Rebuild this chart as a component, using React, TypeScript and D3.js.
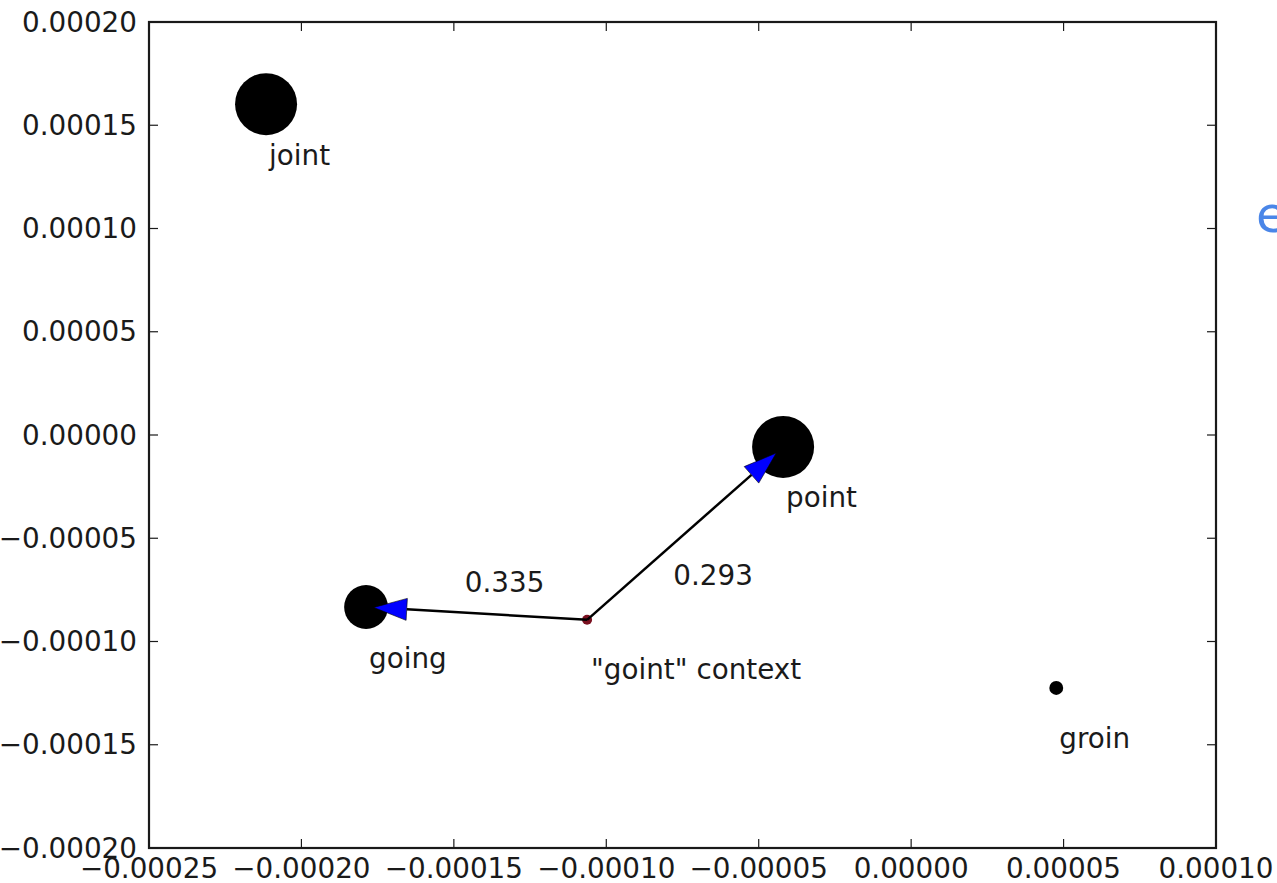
import React from 'react';
import * as d3 from 'd3';

// word embeddings (2d projection)
const words = ['joint', 'point', 'going', 'groin'];
const wordX = [-0.0002116, -0.000042, -0.0001788, 0.0000476];
const wordY = [0.0001602, -0.0000058, -0.0000833, -0.0001225];
const wordWeight = [0.4, 0.4, 0.2, 0.02];

const contextLabel = '"goint" context';
const contextX = -0.0001063;
const contextY = -0.0000895;

// arrows from context to candidates
const arrowTargets = ['going', 'point'];
const arrowScores = ['0.335', '0.293'];

const xTicks = [-0.00025, -0.0002, -0.00015, -0.0001, -0.00005, 0, 0.00005, 0.0001];
const yTicks = [-0.0002, -0.00015, -0.0001, -0.00005, 0, 0.00005, 0.0001, 0.00015, 0.0002];

const W = 1277;
const H = 883;
const margin = { top: 22, right: 61, bottom: 35, left: 149 };
const font = '"DejaVu Sans", sans-serif';
const fs = 27.8;
const ink = '#1a1a1a';

const fmt = (v: number) => {
  const s = Math.abs(v) < 1e-12 ? '0.00000' : v.toFixed(5);
  return s.replace('-', '\u2212');
};

export default function App() {
  const x = d3.scaleLinear().domain([-0.00025, 0.0001]).range([margin.left, W - margin.right]);
  const y = d3.scaleLinear().domain([-0.0002, 0.0002]).range([H - margin.bottom, margin.top]);
  const r = d3.scaleSqrt().domain([0, 0.4]).range([0, 31]);

  const x0 = margin.left, x1 = W - margin.right, y0 = margin.top, y1 = H - margin.bottom;
  const tick = 9;

  const cx = x(contextX), cy = y(contextY);
  // label nudges for edge scores (px)
  const scoreNudge = [[28, -31], [28, 42]];

  const arrows = arrowTargets.map((name, i) => {
    const k = words.indexOf(name);
    const tx = x(wordX[k]), ty = y(wordY[k]);
    const dx = tx - cx, dy = ty - cy;
    const len = Math.hypot(dx, dy);
    const ux = dx / len, uy = dy / len;
    const tipLen = len * 0.965;
    const headLen = 33, headW = 11;
    const tipX = cx + ux * tipLen, tipY = cy + uy * tipLen;
    const bx = tipX - ux * headLen, by = tipY - uy * headLen;
    const px = -uy, py = ux;
    const head = [
      [tipX, tipY],
      [bx + px * headW, by + py * headW],
      [bx - px * headW, by - py * headW],
    ];
    const mx = (cx + tx) / 2, my = (cy + ty) / 2;
    return { bx, by, head, lx: mx + scoreNudge[i][0], ly: my + scoreNudge[i][1], score: arrowScores[i] };
  });

  return (
    <div style={{ position: 'absolute', left: 0, top: 0 }}>
      <svg width={W} height={H} style={{ display: 'block', background: 'white' }} fontFamily={font}>
        {/* word markers */}
        {words.map((w, i) => (
          <circle key={w} cx={x(wordX[i])} cy={y(wordY[i])} r={r(wordWeight[i])} fill="#000" />
        ))}
        <circle cx={cx} cy={cy} r={5} fill="#7a1020" />

        {/* arrows */}
        {arrows.map((a, i) => (
          <g key={i}>
            <line x1={cx} y1={cy} x2={a.bx} y2={a.by} stroke="#000" strokeWidth={2.5} />
            <polygon points={a.head.map((p) => p.join(',')).join(' ')} fill="#0000ff" stroke="#000" strokeWidth={0.6} />
            <text x={a.lx} y={a.ly} textAnchor="middle" dominantBaseline="central" fontSize={fs} fill={ink}>
              {a.score}
            </text>
          </g>
        ))}

        {/* word labels */}
        {words.map((w, i) => (
          <text key={w} x={x(wordX[i]) + 3} y={y(wordY[i]) + 51} dominantBaseline="central" fontSize={fs} fill={ink}>
            {w}
          </text>
        ))}
        <text x={cx + 4} y={cy + 50} dominantBaseline="central" fontSize={fs} fill={ink}>
          {contextLabel}
        </text>

        {/* frame */}
        <rect x={x0} y={y0} width={x1 - x0} height={y1 - y0} fill="none" stroke={ink} strokeWidth={2.2} />

        {/* ticks */}
        {xTicks.map((t) => (
          <g key={'x' + t}>
            <line x1={x(t)} x2={x(t)} y1={y1} y2={y1 - tick} stroke={ink} strokeWidth={1.2} />
            <line x1={x(t)} x2={x(t)} y1={y0} y2={y0 + tick} stroke={ink} strokeWidth={1.2} />
            <text x={x(t)} y={y1 + 20} textAnchor="middle" dominantBaseline="central" fontSize={fs} fill={ink}>
              {fmt(t)}
            </text>
          </g>
        ))}
        {yTicks.map((t) => (
          <g key={'y' + t}>
            <line x1={x0} x2={x0 + tick} y1={y(t)} y2={y(t)} stroke={ink} strokeWidth={1.2} />
            <line x1={x1} x2={x1 - tick} y1={y(t)} y2={y(t)} stroke={ink} strokeWidth={1.2} />
            <text x={x0 - 12} y={y(t)} textAnchor="end" dominantBaseline="central" fontSize={fs} fill={ink}>
              {fmt(t)}
            </text>
          </g>
        ))}

        {/* stray glyph at right edge */}
        <text x={1256} y={232} fontSize={50} fill="#4a86e8" fontFamily={font}>
          e
        </text>
      </svg>
    </div>
  );
}
